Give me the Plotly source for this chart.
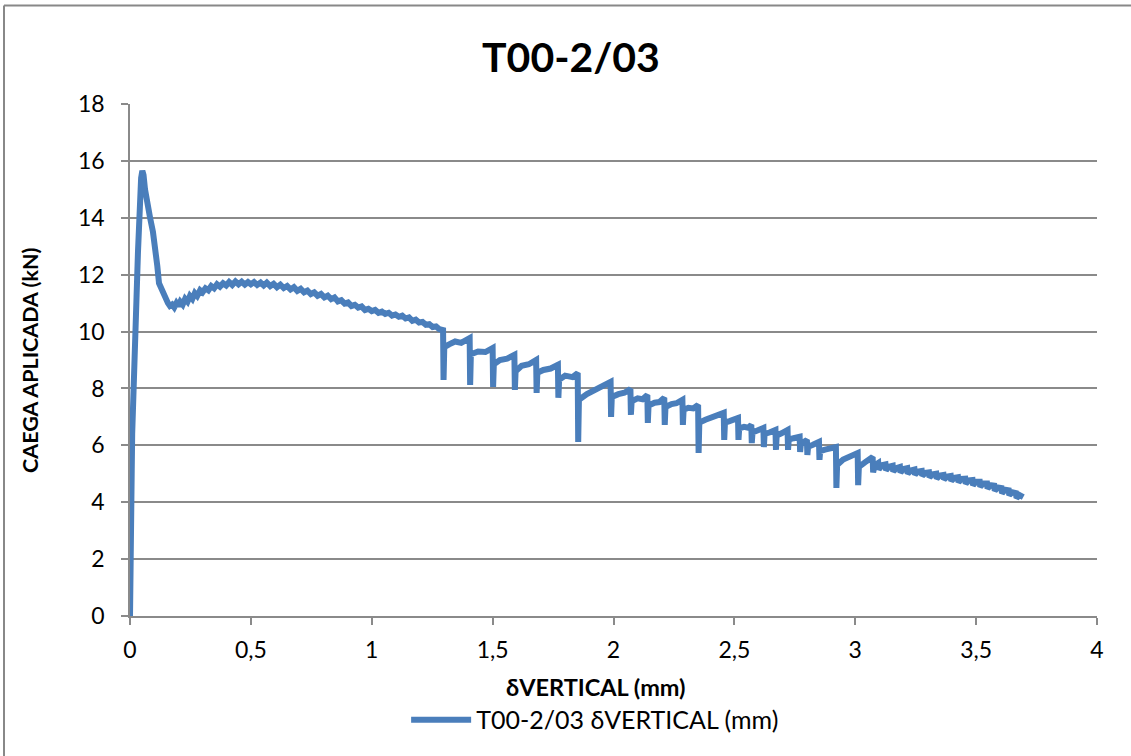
import plotly.graph_objects as go

# Initial elastic rise up to peak load
delta_rise = [0.0, 0.002, 0.003, 0.005, 0.007, 0.009, 0.012, 0.016, 0.021, 0.027,
              0.033, 0.040, 0.046, 0.051]
load_rise = [0.0, 0.8, 2.0, 3.5, 5.0, 6.4, 7.6, 8.8, 9.8, 11.2,
             12.8, 14.6, 15.4, 15.65]

# Post-peak softening and plateau
delta_plateau = [0.056, 0.062, 0.070, 0.083, 0.095, 0.105, 0.113, 0.120, 0.128, 0.137,
                 0.147, 0.157, 0.165, 0.174, 0.183, 0.192, 0.200, 0.208, 0.218, 0.228,
                 0.238, 0.248, 0.258, 0.268, 0.278, 0.290, 0.300, 0.312, 0.324, 0.336,
                 0.348, 0.360, 0.372, 0.385, 0.398, 0.410, 0.423, 0.436, 0.449, 0.462,
                 0.475, 0.488, 0.500, 0.513, 0.526, 0.540, 0.553, 0.566, 0.580, 0.594,
                 0.608, 0.622, 0.636, 0.650, 0.664, 0.678, 0.692, 0.706, 0.720, 0.734,
                 0.748, 0.762, 0.776, 0.790, 0.804, 0.818, 0.832, 0.846, 0.860, 0.874,
                 0.888, 0.902, 0.916, 0.930, 0.944, 0.958, 0.972, 0.986, 1.000, 1.014,
                 1.028, 1.042, 1.056, 1.070, 1.084, 1.098, 1.112, 1.126, 1.140, 1.154,
                 1.168, 1.182, 1.196, 1.210, 1.224, 1.238, 1.252, 1.266, 1.280, 1.295]
load_plateau = [15.5, 15.0, 14.5, 14.0, 13.5, 13.0, 12.3, 11.7, 11.55, 11.4,
                11.1, 11.0, 10.9, 10.95, 10.85, 11.0, 10.9, 11.05, 10.95, 11.15,
                11.05, 11.25, 11.15, 11.35, 11.25, 11.45, 11.38, 11.52, 11.45, 11.6,
                11.52, 11.66, 11.58, 11.7, 11.62, 11.74, 11.64, 11.76, 11.66, 11.75,
                11.65, 11.74, 11.66, 11.74, 11.64, 11.72, 11.62, 11.72, 11.6, 11.68,
                11.56, 11.65, 11.53, 11.6, 11.48, 11.56, 11.43, 11.5, 11.38, 11.44,
                11.32, 11.38, 11.26, 11.32, 11.2, 11.26, 11.14, 11.2, 11.06, 11.1,
                10.98, 11.02, 10.9, 10.94, 10.84, 10.88, 10.76, 10.8, 10.72, 10.76,
                10.66, 10.7, 10.62, 10.66, 10.56, 10.6, 10.52, 10.56, 10.46, 10.5,
                10.38, 10.42, 10.32, 10.34, 10.24, 10.26, 10.16, 10.18, 10.08, 10.05]

# Unload/reload sawtooth region
delta_saw = [1.297, 1.300, 1.320, 1.345, 1.370, 1.390, 1.405,
             1.407, 1.410, 1.440, 1.470, 1.500,
             1.502, 1.505, 1.530, 1.560, 1.590,
             1.592, 1.595, 1.620, 1.650, 1.680,
             1.682, 1.685, 1.710, 1.740, 1.770,
             1.772, 1.775, 1.800, 1.830, 1.852,
             1.854, 1.857, 1.890, 1.920, 1.955, 1.988,
             1.990, 1.993, 2.020, 2.045, 2.070,
             2.072, 2.075, 2.100, 2.120, 2.140,
             2.142, 2.145, 2.170, 2.190, 2.210,
             2.212, 2.215, 2.240, 2.260, 2.285,
             2.287, 2.290, 2.310, 2.330, 2.350,
             2.352, 2.355, 2.380, 2.410, 2.435, 2.456,
             2.458, 2.461, 2.480, 2.500, 2.515,
             2.517, 2.520, 2.540, 2.557, 2.570,
             2.572, 2.575, 2.595, 2.620,
             2.622, 2.625, 2.645, 2.670,
             2.672, 2.675, 2.695, 2.720,
             2.722, 2.725, 2.745, 2.770,
             2.772, 2.775, 2.800,
             2.802, 2.805, 2.825, 2.850,
             2.852, 2.855, 2.875, 2.900, 2.920,
             2.922, 2.925, 2.950, 2.980, 3.010,
             3.012, 3.015, 3.040, 3.072]
load_saw = [8.3, 9.45, 9.55, 9.65, 9.6, 9.7, 9.77,
            8.12, 9.2, 9.3, 9.28, 9.42,
            8.05, 8.85, 9.0, 9.05, 9.18,
            7.95, 8.6, 8.8, 8.85, 9.0,
            7.84, 8.55, 8.65, 8.7, 8.83,
            7.67, 8.3, 8.45, 8.4, 8.54,
            6.12, 7.6, 7.8, 7.95, 8.1, 8.23,
            7.0, 7.7, 7.8, 7.85, 7.98,
            7.07, 7.55, 7.65, 7.62, 7.77,
            6.79, 7.4, 7.5, 7.52, 7.67,
            6.72, 7.35, 7.45, 7.48, 7.6,
            6.72, 7.25, 7.32, 7.3, 7.42,
            5.73, 6.8, 6.9, 7.0, 7.05, 7.14,
            6.19, 6.8, 6.85, 6.9, 6.96,
            6.19, 6.6, 6.65, 6.62, 6.72,
            6.08, 6.45, 6.52, 6.61,
            5.94, 6.4, 6.45, 6.54,
            5.84, 6.35, 6.42, 6.54,
            5.84, 6.2, 6.25, 6.3,
            5.77, 6.05, 6.19,
            5.66, 5.95, 6.02, 6.12,
            5.49, 5.8, 5.85, 5.88, 5.94,
            4.5, 5.31, 5.5, 5.6, 5.73,
            4.6, 5.24, 5.4, 5.59]

# Final descending branch with small reload cycles
delta_tail = [3.074, 3.080, 3.095, 3.097, 3.110, 3.125, 3.127, 3.140, 3.155, 3.157,
              3.170, 3.185, 3.187, 3.200, 3.215, 3.217, 3.230, 3.245, 3.247, 3.260,
              3.275, 3.277, 3.290, 3.305, 3.307, 3.320, 3.335, 3.337, 3.350, 3.365,
              3.367, 3.380, 3.395, 3.397, 3.410, 3.425, 3.427, 3.440, 3.455, 3.457,
              3.470, 3.485, 3.487, 3.500, 3.515, 3.517, 3.530, 3.545, 3.547, 3.560,
              3.575, 3.577, 3.590, 3.605, 3.607, 3.620, 3.635, 3.637, 3.650, 3.665,
              3.667, 3.680, 3.695]
load_tail = [5.05, 5.3, 5.38, 5.15, 5.3, 5.33, 5.12, 5.25, 5.28, 5.08,
             5.2, 5.24, 5.05, 5.17, 5.2, 5.0, 5.12, 5.15, 4.97, 5.08,
             5.1, 4.93, 5.03, 5.05, 4.88, 4.98, 5.0, 4.83, 4.94, 4.96,
             4.8, 4.9, 4.92, 4.75, 4.86, 4.88, 4.7, 4.82, 4.83, 4.65,
             4.77, 4.78, 4.6, 4.72, 4.72, 4.55, 4.66, 4.66, 4.48, 4.6,
             4.58, 4.4, 4.52, 4.5, 4.32, 4.44, 4.42, 4.25, 4.35, 4.32,
             4.15, 4.25, 4.18]

delta = delta_rise + delta_plateau + delta_saw + delta_tail
load = load_rise + load_plateau + load_saw + load_tail

chart_title = "T00-2/03"
series_name = "T00-2/03 δVERTICAL (mm)"
x_title = "δVERTICAL (mm)"
y_title = "CAEGA APLICADA (kN)"

FONT = "Lato, Calibri, 'Open Sans', sans-serif"
GRID = "#8a8a8a"
BLUE = "#4a7ebb"
TICK_SIZE = 23

fig = go.Figure()
fig.add_trace(go.Scatter(
    x=delta, y=load, mode="lines", name=series_name,
    line=dict(color=BLUE, width=6, shape="linear"),
))

fig.update_layout(
    width=1131, height=756,
    margin=dict(l=130, r=34, t=104, b=140),
    paper_bgcolor="white", plot_bgcolor="white",
    separators=",.",
    font=dict(family=FONT, size=TICK_SIZE, color="black"),
    showlegend=True,
    legend=dict(orientation="h", x=0.481, xanchor="center", y=-0.203, yanchor="middle",
                font=dict(family=FONT, size=25, color="black"),
                itemwidth=60, bgcolor="rgba(0,0,0,0)"),
    xaxis=dict(range=[0, 4], dtick=0.5, tick0=0, showgrid=False, zeroline=False,
               showline=True, linecolor=GRID, linewidth=1.5,
               ticks="outside", ticklen=7, tickcolor=GRID, tickwidth=1.5,
               ticklabelstandoff=6,
               tickfont=dict(family=FONT, size=TICK_SIZE, color="black")),
    yaxis=dict(range=[0, 18], dtick=2, tick0=0, showgrid=True, gridcolor=GRID, gridwidth=1.5,
               zeroline=False, showline=True, linecolor=GRID, linewidth=1.5,
               ticks="outside", ticklen=7, tickcolor=GRID, tickwidth=1.5,
               ticklabelstandoff=12,
               tickfont=dict(family=FONT, size=TICK_SIZE, color="black")),
    annotations=[
        dict(text=f"<b>{chart_title}</b>", xref="paper", yref="paper", x=0.456, y=1.092,
             xanchor="center", yanchor="middle", showarrow=False,
             font=dict(family=FONT, size=41, color="black")),
        dict(text=f"<b>{x_title}</b>", xref="paper", yref="paper", x=0.482, y=-0.139,
             xanchor="center", yanchor="middle", showarrow=False,
             font=dict(family=FONT, size=23.5, color="black")),
        dict(text=f"<b>{y_title}</b>", xref="paper", yref="paper", x=-0.1034, y=0.5,
             xanchor="center", yanchor="middle", textangle=-90, showarrow=False,
             font=dict(family=FONT, size=21.5, color="black")),
    ],
    shapes=[
        # chart-area frame (left and top edges)
        dict(type="line", xref="paper", yref="paper", x0=-0.1303, x1=-0.1303, y0=-0.3, y1=1.1924,
             line=dict(color="#888888", width=2)),
        dict(type="line", xref="paper", yref="paper", x0=-0.1303, x1=1.1, y0=1.1924, y1=1.1924,
             line=dict(color="#888888", width=2)),
    ],
)

fig.write_html("out.html")
